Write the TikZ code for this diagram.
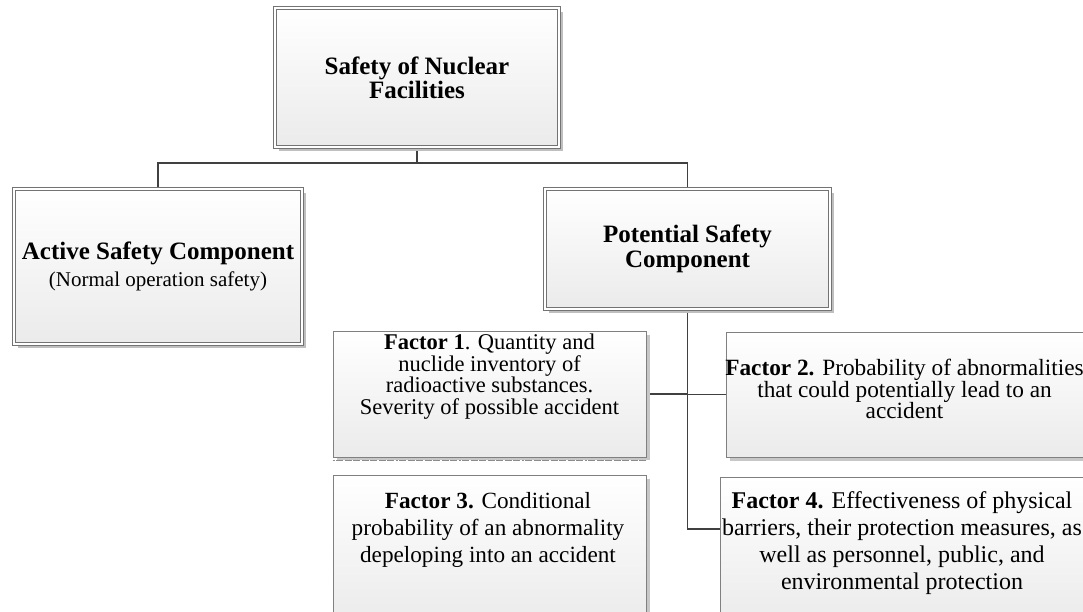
\documentclass[tikz,border=0pt]{standalone}
\usepackage{fontspec}
\setmainfont{Liberation Serif}
\usetikzlibrary{shadows,backgrounds}
\begin{document}
\begin{tikzpicture}[x=1pt,y=-1pt,
  bigbox/.style={rectangle, draw=black!55, line width=0.7pt, double=white, double distance=2.2pt,
    top color=white, bottom color=black!8,
    drop shadow={shadow xshift=3.5pt, shadow yshift=-3.5pt, fill=black!25, opacity=1},
    inner sep=0pt, align=center},
  facbox/.style={rectangle, draw=black!50, line width=0.8pt,
    top color=white, bottom color=black!8,
    drop shadow={shadow xshift=3.5pt, shadow yshift=-3.5pt, fill=black!22, opacity=1},
    inner sep=0pt},
  factext/.style={align=center, inner sep=0pt},
  conn/.style={draw=black!75, line width=1.3pt}]
\useasboundingbox (0,0) rectangle (1083,611);

\node[bigbox, minimum width=284pt, minimum height=139pt, font=\bfseries\fontsize{25}{24}\selectfont] (top) at (417,77.5) {Safety of Nuclear\\Facilities};
\node[bigbox, minimum width=288pt, minimum height=155pt, font=\bfseries\fontsize{25}{27}\selectfont] (active) at (158,266.5) {Active Safety Component\\{\mdseries\fontsize{21}{27}\selectfont (Normal operation safety)}};
\node[bigbox, minimum width=285pt, minimum height=120pt, font=\bfseries\fontsize{25}{25}\selectfont] (potential) at (687.5,249) {Potential Safety\\Component};

\node[facbox, minimum width=313pt, minimum height=126pt] (f1box) at (489.5,394) {};
\draw[white, line width=2pt] ([yshift=-3.5pt]f1box.south west) -- ([yshift=-3.5pt,xshift=4pt]f1box.south east);
\draw[black!45, line width=0.9pt, dash pattern=on 2pt off 1.5pt on 7pt off 1.5pt on 7pt off 1.5pt on 7pt off 1.5pt on 7pt off 1.5pt on 7pt off 1.5pt on 7pt off 1.5pt on 7pt off 1.5pt]
  ([yshift=-3.5pt]f1box.south west) -- ([yshift=-3.5pt]f1box.south east);
\node[factext, font=\fontsize{22.5}{21.7}\selectfont] (f1) at (489.5,376.5) {\textbf{Factor 1}. Quantity and\\nuclide inventory of\\radioactive substances.\\Severity of possible accident};

\node[facbox, minimum width=359pt, minimum height=125pt] (f2box) at (905.5,394.5) {};
\node[factext, font=\fontsize{23.3}{21.5}\selectfont] (f2) at (904.5,389) {\textbf{Factor 2.} Probability of abnormalities\\that could potentially lead to an\\accident};

\node[facbox, minimum width=313pt, minimum height=150pt] (f3box) at (489.5,550) {};
\node[factext, font=\fontsize{23.2}{26.7}\selectfont] (f3) at (488,530) {\textbf{Factor 3.} Conditional\\probability of an abnormality\\depeloping into an accident};

\node[facbox, minimum width=365pt, minimum height=148pt] (f4box) at (902.5,551) {};
\node[factext, font=\fontsize{24}{27}\selectfont] (f4) at (902,543) {\textbf{Factor 4.} Effectiveness of physical\\barriers, their protection measures, as\\well as personnel, public, and\\environmental protection};

\begin{scope}[on background layer]
\fill[white] (0,0) rectangle (1083,611);
\coordinate (bus) at (417,163);
\coordinate (trunkend) at (687.5,529);
\draw[conn] (top.south) -- (top.south |- bus);
\draw[conn] (active.north) -- (active.north |- bus) -- (potential.north |- bus) -- (potential.north);
\draw[conn] (potential.south) -- (potential.south |- trunkend) -- (f4box.west |- trunkend);
\draw[conn] (f1box.east) -- (f1box.east -| potential.south);
\draw[conn] (f2box.west) -- (f2box.west -| potential.south);
\end{scope}
\end{tikzpicture}
\end{document}
